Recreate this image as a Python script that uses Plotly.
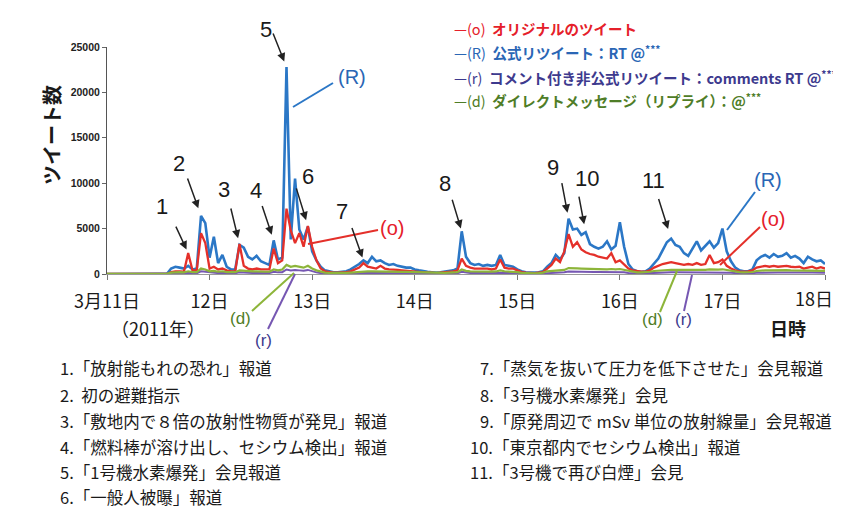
import pandas as pd
import plotly.graph_objects as go

# ---------------- data (hourly, 2011-03-11 00:00 .. 2011-03-18 00:00) ----------------
times = pd.date_range("2011-03-11 00:00", periods=169, freq="h")

retweet_R = [
    # 11日
    0, 0, 0, 0, 0, 0, 0, 0, 0, 0, 0, 0, 0, 0, 0, 600, 800, 700, 600, 900, 500, 600, 6400, 5600,
    # 12日
    1800, 4100, 1200, 2100, 800, 500, 500, 3200, 2900, 1900, 1600, 2000, 1400, 1200, 1000, 3700, 1600, 1800, 22800, 3800, 10500, 4900, 3800, 5200,
    # 13日
    2500, 1500, 800, 400, 300, 200, 200, 250, 300, 500, 800, 1100, 1500, 1200, 1900, 1400, 1500, 1200, 1000, 1100, 900, 800, 700, 700,
    # 14日
    500, 400, 300, 250, 200, 150, 200, 250, 300, 400, 600, 4700, 1900, 1200, 1000, 1100, 900, 1000, 900, 1000, 2100, 1000, 900, 800,
    # 15日
    500, 300, 200, 150, 150, 200, 300, 800, 1200, 2100, 1600, 2300, 6100, 4900, 5000, 4300, 4600, 3300, 3000, 2800, 3000, 3600, 2700, 3100,
    # 16日
    5700, 3000, 1100, 500, 300, 250, 300, 600, 1200, 1700, 2600, 3500, 3900, 3200, 3000, 2300, 2000, 2800, 3600, 2600, 3100, 3600, 2900, 3400,
    # 17日
    5000, 2500, 1400, 700, 400, 300, 300, 500, 1500, 1900, 2100, 1800, 2200, 1900, 2000, 2300, 1800, 2000, 1700, 1200, 1900, 1600, 1400, 1500,
    # 18日 0時
    1100,
]

original_o = [
    0, 0, 0, 0, 0, 0, 0, 0, 0, 0, 0, 0, 0, 0, 0, 200, 300, 300, 250, 2300, 400, 400, 4500, 3400,
    600, 800, 500, 600, 400, 300, 300, 3300, 900, 600, 500, 600, 500, 500, 500, 2800, 1200, 1500, 7200, 4800, 3400, 4500, 3000, 5300,
    3000, 1500, 600, 300, 200, 150, 150, 150, 200, 300, 500, 700, 1200, 800, 700, 600, 900, 600, 500, 500, 450, 400, 350, 350,
    300, 250, 200, 150, 150, 100, 150, 200, 200, 300, 400, 1700, 900, 700, 600, 600, 550, 600, 500, 600, 1600, 700, 600, 600,
    400, 200, 150, 100, 100, 150, 200, 600, 1000, 1700, 1300, 2500, 4400, 3000, 3500, 2700, 2400, 2200, 2100, 1900, 1800, 1700, 2300, 1300,
    1500, 1000, 600, 400, 300, 250, 250, 400, 700, 900, 1100, 1200, 1300, 1200, 1100, 1000, 1100, 1000, 1200, 1000, 1100, 2100, 1200, 1300,
    1600, 900, 600, 400, 300, 250, 300, 400, 700, 800, 900, 800, 900, 800, 850, 900, 800, 750, 800, 600, 700, 800, 600, 750,
    600,
]

comment_r = [
    0, 0, 0, 0, 0, 0, 0, 0, 0, 0, 0, 0, 0, 0, 0, 50, 80, 80, 70, 120, 80, 80, 300, 250,
    120, 150, 100, 120, 80, 80, 80, 200, 150, 120, 120, 120, 100, 100, 100, 250, 180, 200, 500, 400, 450, 400, 350, 450,
    300, 180, 100, 60, 50, 40, 40, 40, 50, 60, 80, 100, 130, 120, 120, 110, 120, 110, 100, 100, 100, 90, 90, 90,
    80, 60, 50, 40, 40, 30, 40, 50, 60, 70, 80, 250, 150, 120, 110, 110, 100, 110, 100, 110, 180, 120, 110, 100,
    80, 50, 40, 30, 30, 40, 60, 120, 150, 170, 170, 190, 280, 260, 270, 260, 250, 240, 230, 230, 220, 220, 230, 210,
    240, 190, 120, 80, 70, 70, 70, 100, 140, 160, 180, 190, 200, 190, 190, 180, 180, 190, 200, 190, 190, 210, 200, 200,
    220, 180, 140, 100, 80, 70, 70, 90, 140, 160, 170, 160, 170, 170, 170, 180, 170, 170, 160, 150, 160, 155, 150, 155,
    150,
]

direct_d = [
    20, 20, 20, 20, 20, 20, 20, 20, 20, 20, 20, 20, 20, 20, 20, 150, 200, 200, 180, 300, 200, 200, 600, 500,
    300, 350, 250, 300, 200, 200, 200, 400, 350, 300, 300, 300, 250, 250, 250, 500, 400, 500, 1000, 800, 900, 800, 700, 900,
    600, 400, 250, 150, 120, 100, 100, 100, 120, 150, 200, 250, 300, 300, 300, 280, 300, 280, 260, 260, 250, 240, 230, 220,
    200, 150, 120, 100, 100, 80, 100, 120, 150, 180, 200, 500, 350, 300, 280, 280, 270, 280, 270, 280, 400, 300, 280, 260,
    200, 130, 100, 80, 80, 100, 150, 300, 350, 400, 400, 450, 650, 600, 620, 600, 580, 560, 550, 540, 520, 520, 550, 500,
    550, 450, 300, 200, 180, 170, 180, 250, 330, 380, 420, 450, 470, 460, 450, 430, 440, 450, 470, 450, 460, 500, 470, 480,
    520, 420, 330, 250, 200, 180, 180, 220, 330, 380, 400, 390, 410, 400, 410, 420, 400, 400, 390, 350, 380, 370, 360, 370,
    350,
]

day_ticks = pd.date_range("2011-03-11", periods=8, freq="D")
day_labels = ["3月11日", "12日", "13日", "14日", "15日", "16日", "17日", "18日"]
y_ticks = [0, 5000, 10000, 15000, 20000, 25000]
y_labels = ["0", "5000", "10000", "15000", "20000", "25000"]

# event number -> (series, hour index of the marked peak)
event_nums = [1, 2, 3, 4, 5, 6, 7, 8, 9, 10, 11]
event_series = ["o", "R", "o", "R", "R", "o", "R", "R", "R", "R", "R"]
event_hours = [19, 22, 31, 39, 42, 47, 60, 83, 108, 112, 132]

notes_left = [
    "1.「放射能もれの恐れ」報道",
    "2.  初の避難指示",
    "3.「敷地内で８倍の放射性物質が発見」報道",
    "4.「燃料棒が溶け出し、セシウム検出」報道",
    "5.「1号機水素爆発」会見報道",
    "6.「一般人被曝」報道",
]
notes_right = [
    "7.「蒸気を抜いて圧力を低下させた」会見報道",
    "8.「3号機水素爆発」会見",
    "9.「原発周辺で mSv 単位の放射線量」会見報道",
    "10.「東京都内でセシウム検出」報道",
    "11.「3号機で再び白煙」会見",
]

legend_items = [
    ("(o)", "オリジナルのツイート"),
    ("(R)", "公式リツイート：RT @<sup>***</sup>"),
    ("(r)", "コメント付き非公式リツイート：comments RT @<sup>***</sup>"),
    ("(d)", "ダイレクトメッセージ（リプライ）：@<sup>***</sup>"),
]

# ---------------- styling ----------------
OFF = 8                      # page body margin of the browser
W, H = 841 - OFF, 510 - OFF
PL, PR, PT, PB = 107, 825, 47, 274  # plot area in screen pixels

C_R = "#2b77c6"
C_O = "#e4302a"
C_r = "#7657b2"
C_d = "#8db53a"
T_R = "#2a66b5"
T_O = "#e5202a"
T_r = "#3d3a8e"
T_d = "#4f7d27"

SANS = "Liberation Sans, Arial, sans-serif"
JP = "Noto Sans CJK JP, sans-serif"


def px(x):
    return (x - PL) / (PR - PL)


def py(y):
    return (PB - y) / (PB - PT)


series = {"R": retweet_R, "o": original_o, "r": comment_r, "d": direct_d}

fig = go.Figure()
fig.add_trace(go.Scatter(x=times, y=retweet_R, mode="lines", line=dict(color=C_R, width=2.6), name="(R)"))
fig.add_trace(go.Scatter(x=times, y=original_o, mode="lines", line=dict(color=C_O, width=2.3), name="(o)"))
fig.add_trace(go.Scatter(x=times, y=comment_r, mode="lines", line=dict(color=C_r, width=2), name="(r)"))
fig.add_trace(go.Scatter(x=times, y=direct_d, mode="lines", line=dict(color=C_d, width=2.2), name="(d)"))

ann = []
shapes = []

# event arrows (tips on the data peaks)
arrow_tail = [(-13, -28, 4), (-14, -39, 8), (-9, -37, 6), (-12, -36, 6), (-14, -35, 6), (-12, -39, 6),
              (-12, -34, 3), (-10, -33, 3), (-7, -37, 6), (-7, -37, 8), (-13, -41, 10)]
num_pos = [(162, 207), (179, 163), (224, 189), (256, 190), (266, 29), (308, 176),
           (342, 211), (445, 183), (553, 167), (587, 178), (653, 180)]
for n, s, h, (ax, ay, so), (tx, ty) in zip(event_nums, event_series, event_hours, arrow_tail, num_pos):
    ann.append(dict(x=times[h], y=series[s][h], xref="x", yref="y", text="", showarrow=True,
                    ax=ax, ay=ay, arrowhead=2, arrowsize=1.1, arrowwidth=1.5, arrowcolor="#222",
                    standoff=so))
    ann.append(dict(x=px(tx), y=py(ty), xref="paper", yref="paper", text=str(n), showarrow=False,
                    font=dict(family=SANS, size=22, color="#1a1a1a"), xanchor="center", yanchor="middle"))

# callout labels and lines
callouts = [
    ("(R)", T_R, 20, (352, 77), (333, 83), (293, 107), C_R),
    ("(o)", T_O, 20, (392, 228), (378, 230), (308, 244), C_O),
    ("(R)", T_R, 20, (768, 180), (755, 192), (727, 230), C_R),
    ("(o)", T_O, 20, (773, 219), (760, 227), (720, 265), C_O),
    ("(d)", T_d, 17, (240, 318), (252, 311), (294, 273), C_d),
    ("(r)", T_r, 17, (263, 340), (268, 329), (295, 274), C_r),
    ("(d)", T_d, 17, (652, 319), (660, 312), (677, 271), C_d),
    ("(r)", T_r, 17, (683, 319), (684, 311), (692, 275), C_r),
]
for txt, tc, fs, (tx, ty), (x0, y0), (x1, y1), lc in callouts:
    ann.append(dict(x=px(tx), y=py(ty), xref="paper", yref="paper", text=txt, showarrow=False,
                    font=dict(family=SANS, size=fs, color=tc), xanchor="center", yanchor="middle"))
    shapes.append(dict(type="line", xref="paper", yref="paper", x0=px(x0), y0=py(y0), x1=px(x1), y1=py(y1),
                       line=dict(color=lc, width=2)))

# legend block
leg_colors = [T_O, T_R, T_r, T_d]
leg_y = [28, 52, 77, 100]
for (tag, label), c, yy in zip(legend_items, leg_colors, leg_y):
    ann.append(dict(x=px(452), y=py(yy), xref="paper", yref="paper",
                    text=f"—{tag}  <b>{label}</b>", showarrow=False,
                    font=dict(family=JP, size=14.5, color=c), xanchor="left", yanchor="middle"))

# axis title & extra axis texts
ann.append(dict(x=px(51), y=py(135), xref="paper", yref="paper", text="<b>ツイート数</b>", textangle=-90,
                showarrow=False, font=dict(family=JP, size=20, color="#1a1a1a"), xanchor="center", yanchor="middle"))
ann.append(dict(x=px(158), y=py(328), xref="paper", yref="paper", text="（2011年）", showarrow=False,
                font=dict(family=JP, size=18, color="#1a1a1a"), xanchor="center", yanchor="middle"))
ann.append(dict(x=px(788), y=py(328), xref="paper", yref="paper", text="<b>日時</b>", showarrow=False,
                font=dict(family=JP, size=18, color="#1a1a1a"), xanchor="center", yanchor="middle"))
# last day label (sits at the very edge of the page)
ann.append(dict(x=px(814), y=py(298), xref="paper", yref="paper", text=day_labels[-1], showarrow=False,
                font=dict(family=JP, size=18, color="#1a1a1a"), xanchor="center", yanchor="middle"))

# bottom explanatory notes
row_y = [368, 395, 421, 447, 472, 497]
for t, yy in zip(notes_left, row_y):
    ann.append(dict(x=px(58), y=py(yy), xref="paper", yref="paper", text=t, showarrow=False,
                    font=dict(family=JP, size=16.5, color="#1a1a1a"), xanchor="left", yanchor="middle"))
right_x = [478, 478, 478, 468, 468]
for t, yy, xx in zip(notes_right, row_y, right_x):
    ann.append(dict(x=px(xx), y=py(yy), xref="paper", yref="paper", text=t, showarrow=False,
                    font=dict(family=JP, size=16.5, color="#1a1a1a"), xanchor="left", yanchor="middle"))

tick_text = day_labels[:-1] + [""]

fig.update_layout(
    width=W, height=H,
    margin=dict(l=PL - OFF, r=841 - PR, t=PT - OFF, b=510 - PB),
    plot_bgcolor="white", paper_bgcolor="white",
    showlegend=False,
    annotations=ann, shapes=shapes,
    xaxis=dict(type="date", range=[times[0], times[-1]], tickvals=day_ticks, ticktext=tick_text,
               ticks="outside", ticklen=5, tickcolor="#777", showgrid=False, zeroline=False,
               showline=True, linecolor="#999", linewidth=1,
               tickfont=dict(family=JP, size=18, color="#1a1a1a"), ticklabelstandoff=6),
    yaxis=dict(range=[0, 25000], tickvals=y_ticks, ticktext=y_labels, ticks="outside", ticklen=4,
               tickcolor="#666", showgrid=False, zeroline=False, showline=True, linecolor="#555", linewidth=1,
               tickfont=dict(family=SANS, size=10.5, color="#222", weight="bold")),
)

fig.write_html("out.html")
